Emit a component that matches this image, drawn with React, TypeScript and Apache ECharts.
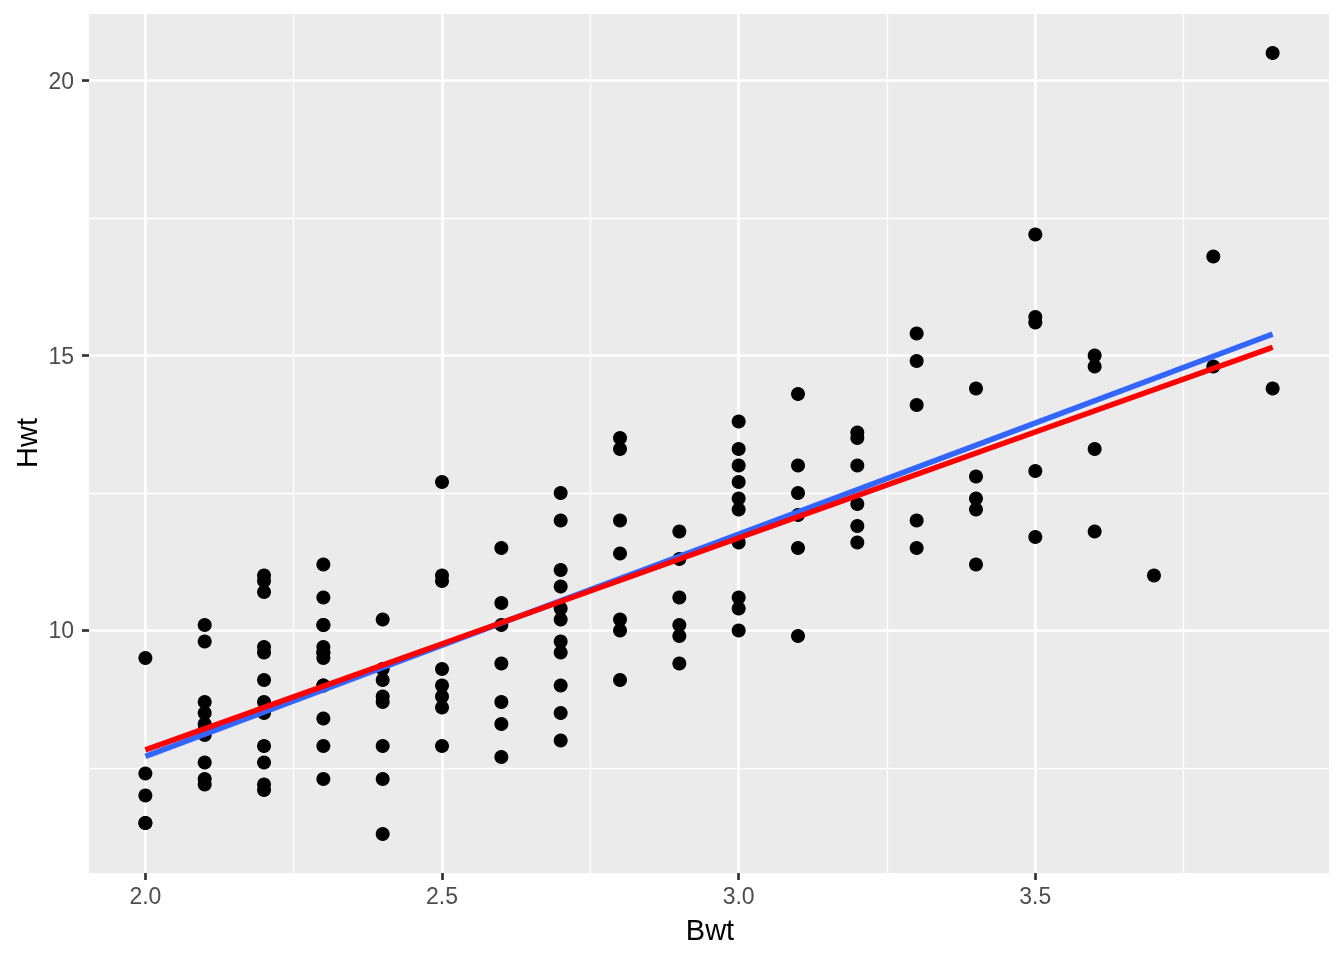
import React, { useEffect, useRef } from "react";
import * as echarts from "echarts";

// Body weight levels (kg) and the heart weights (g) observed at each level
const bwtLevels = [2.0, 2.1, 2.2, 2.3, 2.4, 2.5, 2.6, 2.7, 2.8, 2.9, 3.0, 3.1, 3.2, 3.3, 3.4, 3.5, 3.6, 3.7, 3.8, 3.9];
const hwtByBwt = [
  [7.0, 7.4, 9.5, 6.5, 6.5],
  [7.2, 7.3, 7.6, 8.1, 8.2, 8.3, 8.5, 8.7, 9.8, 10.1],
  [7.1, 8.7, 9.1, 9.7, 10.9, 11.0, 7.2, 7.6, 7.9, 8.5, 9.6, 10.7],
  [7.3, 7.9, 8.4, 9.0, 9.0, 9.5, 9.6, 9.7, 10.1, 10.1, 10.6, 11.2, 9.6],
  [6.3, 8.7, 8.8, 10.2, 7.3, 7.9, 9.1, 9.3],
  [9.0, 10.9, 7.9, 8.6, 8.8, 9.3, 11.0, 12.7],
  [8.7, 10.1, 7.7, 8.3, 9.4, 10.5, 11.5],
  [8.5, 10.2, 10.8, 8.0, 9.0, 9.6, 9.8, 10.4, 11.1, 12.0, 12.5],
  [9.1, 10.0, 10.2, 11.4, 12.0, 13.3, 13.5],
  [9.9, 10.1, 9.4, 10.6, 11.3, 11.8],
  [10.6, 13.0, 10.0, 10.4, 11.6, 12.2, 12.4, 12.7, 13.3, 13.8],
  [9.9, 11.5, 12.1, 12.5, 13.0, 14.3],
  [11.6, 11.9, 12.3, 13.0, 13.5, 13.6],
  [11.5, 12.0, 14.1, 14.9, 15.4],
  [11.2, 12.2, 12.4, 12.8, 14.4],
  [11.7, 12.9, 15.6, 15.7, 17.2],
  [11.8, 13.3, 14.8, 15.0],
  [11.0],
  [14.8, 16.8],
  [14.4, 20.5],
];

// Fitted lines (endpoints in data units)
const blueFit = [[2.0, 7.71], [3.9, 15.39]];
const redFit = [[2.0, 7.83], [3.9, 15.15]];

// Axis ticks and grid lines
const xMajor = [2.0, 2.5, 3.0, 3.5];
const xMinor = [2.25, 2.75, 3.25, 3.75];
const yMajor = [10, 15, 20];
const yMinor = [7.5, 12.5, 17.5];

const FONT = '"Liberation Sans", Arial, Helvetica, sans-serif';

export default function App() {
  const ref = useRef<HTMLDivElement>(null);

  useEffect(() => {
    if (!ref.current) return;
    const chart = echarts.init(ref.current, null, { renderer: "svg" });

    const points: number[][] = [];
    bwtLevels.forEach((b, i) => {
      hwtByBwt[i].forEach((h) => points.push([b, h]));
    });

    const gridLine = (axis: "xAxis" | "yAxis", v: number, w: number) => ({
      [axis]: v,
      lineStyle: { color: "#FFFFFF", width: w, type: "solid" },
    });

    const option: any = {
      animation: false,
      textStyle: { fontFamily: FONT },
      grid: {
        left: 89,
        right: 15,
        top: 14,
        bottom: 87,
        show: true,
        backgroundColor: "#EBEBEB",
        borderWidth: 0,
      },
      xAxis: {
        type: "value",
        min: 1.905,
        max: 3.995,
        axisLine: { show: false, onZero: false },
        splitLine: { show: false },
        axisTick: {
          show: true,
          customValues: xMajor,
          length: 7,
          lineStyle: { color: "#333333", width: 2.7 },
        },
        axisLabel: {
          customValues: xMajor,
          formatter: (v: number) => v.toFixed(1),
          fontSize: 23,
          color: "#4D4D4D",
          margin: 11,
          fontFamily: FONT,
        },
      },
      yAxis: {
        type: "value",
        min: 5.59,
        max: 21.21,
        axisLine: { show: false, onZero: false },
        splitLine: { show: false },
        axisTick: {
          show: true,
          customValues: yMajor,
          length: 7,
          lineStyle: { color: "#333333", width: 2.7 },
        },
        axisLabel: {
          customValues: yMajor,
          formatter: (v: number) => String(v),
          fontSize: 23,
          color: "#4D4D4D",
          margin: 15,
          fontFamily: FONT,
        },
      },
      graphic: [
        {
          type: "text",
          x: 710,
          y: 930,
          style: {
            text: "Bwt",
            fontSize: 29,
            fontFamily: FONT,
            fill: "#000000",
            align: "center",
            verticalAlign: "middle",
          },
        },
        {
          type: "text",
          x: 26.5,
          y: 443,
          rotation: Math.PI / 2,
          style: {
            text: "Hwt",
            fontSize: 29,
            fontFamily: FONT,
            fill: "#000000",
            align: "center",
            verticalAlign: "middle",
          },
        },
      ],
      series: [
        {
          type: "scatter",
          data: [],
          z: 1,
          silent: true,
          markLine: {
            z: 1,
            silent: true,
            symbol: ["none", "none"],
            label: { show: false },
            emphasis: { disabled: true },
            data: [
              ...xMinor.map((v) => gridLine("xAxis", v, 1.35)),
              ...yMinor.map((v) => gridLine("yAxis", v, 1.35)),
              ...xMajor.map((v) => gridLine("xAxis", v, 2.7)),
              ...yMajor.map((v) => gridLine("yAxis", v, 2.7)),
            ],
          },
        },
        {
          type: "scatter",
          data: points,
          z: 10,
          symbol: "circle",
          symbolSize: 14,
          itemStyle: { color: "#000000", opacity: 1 },
        },
        {
          type: "line",
          data: blueFit,
          z: 11,
          symbol: "none",
          lineStyle: { color: "#3366FF", width: 5.5 },
        },
        {
          type: "line",
          data: redFit,
          z: 12,
          symbol: "none",
          lineStyle: { color: "#FF0000", width: 5.5 },
        },
      ],
    };

    chart.setOption(option);
    return () => chart.dispose();
  }, []);

  return (
    <div
      ref={ref}
      style={{ position: "fixed", left: 0, top: 0, width: 1344, height: 960 }}
    />
  );
}
